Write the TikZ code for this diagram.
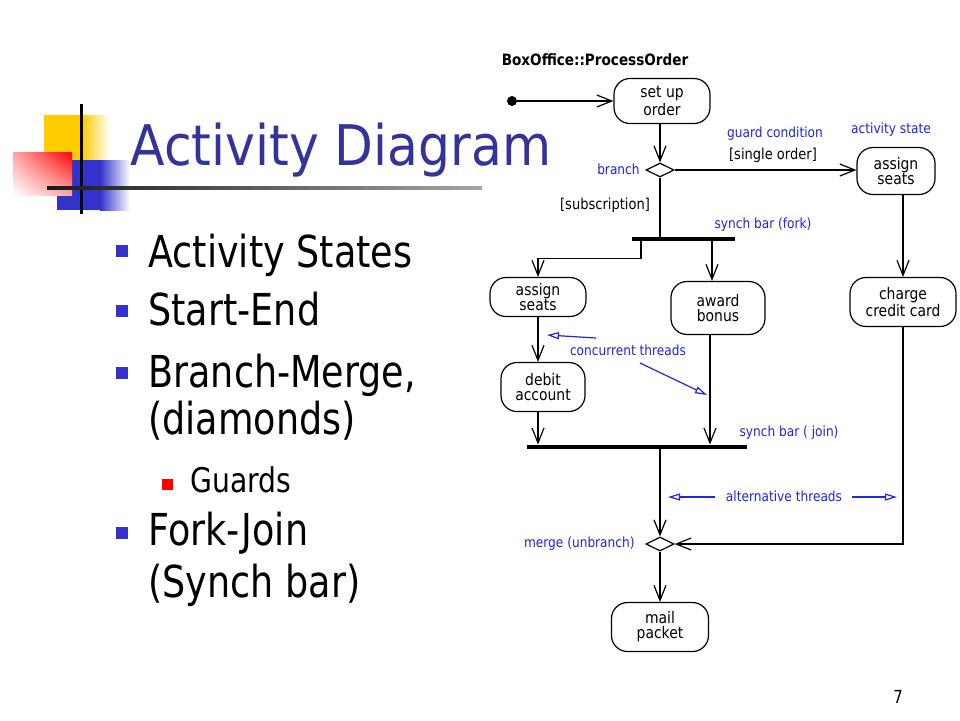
\documentclass[tikz,border=0pt]{standalone}
\usepackage{fontspec}
\usetikzlibrary{arrows.meta,shapes.geometric,shadings,calc}
\newfontfamily\titlefont[FakeStretch=0.9]{DejaVu Sans}
\newfontfamily\bodyfont[FakeStretch=0.83]{DejaVu Sans}
\newfontfamily\diagfont[FakeStretch=0.87]{DejaVu Sans}
\definecolor{titleblue}{RGB}{51,51,153}
\definecolor{bulletblue}{RGB}{51,51,204}
\definecolor{noteblue}{RGB}{35,35,225}
\definecolor{boxyellow}{RGB}{255,204,0}
\tikzset{
  activity/.style={draw, line width=0.6pt, rounded corners=8pt, align=center, inner sep=1pt,
    font=\diagfont\fontsize{8}{7.5}\selectfont},
  decision/.style={draw, line width=0.6pt, diamond, inner sep=0pt, minimum width=14pt, minimum height=7pt},
  synchbar/.style={fill=black, inner sep=0pt, minimum height=2pt},
  flow/.style={line width=0.6pt, -{Straight Barb[length=7.5pt,width=6pt]}},
  note/.style={text=noteblue, inner sep=0pt, font=\diagfont\fontsize{7}{8}\selectfont},
  guard/.style={inner sep=0pt, font=\diagfont\fontsize{7.5}{8}\selectfont},
  notearrow/.style={noteblue, line width=0.6pt, -{Triangle[open,length=6pt,width=3.5pt]}},
  bulletbox/.style={fill=bulletblue, minimum size=6pt, inner sep=0pt},
  bullettext/.style={anchor=base west, inner sep=0pt, font=\bodyfont\fontsize{22}{26}\selectfont},
}
\begin{document}
\begin{tikzpicture}[x=0.5pt,y=-0.5pt]
\useasboundingbox (0,0) rectangle (960,720);
\fill[white] (0,0) rectangle (960,720);

% slide decoration
\fill[boxyellow] (44,115) rectangle (83,160);
\shade[left color=boxyellow, right color=white] (82,115) rectangle (110,160);
\fill[bulletblue] (57,160) rectangle (101,210);
\shade[left color=bulletblue, right color=white] (100,160) rectangle (130,210);
\shade[upper right=red, upper left=red!35!white, lower right=red!35!white, lower left=white] (13,152) rectangle (72,195);
\draw[line width=1.5pt] (81,104) -- (81,214);
\shade[left color=black!90, right color=black!35] (47,186.5) rectangle (482,189.5);

% title and bullets
\node[anchor=base west, inner sep=0pt, text=titleblue, font=\titlefont\fontsize{28}{30}\selectfont] (title) at (130,165) {Activity Diagram};
\node[bulletbox] (b1) at (121.5,251) {};
\node[bullettext] (t1) at (148,267) {Activity States};
\node[bulletbox] (b2) at (121.5,311) {};
\node[bullettext] (t2) at (148,325) {Start-End};
\node[bulletbox] (b3) at (121.5,372.5) {};
\node[bullettext] (t3) at (148,387) {Branch-Merge,};
\node[bullettext] (t3b) at (148,434) {(diamonds)};
\node[fill=red, minimum size=5.5pt, inner sep=0pt] (b4) at (167.5,484) {};
\node[anchor=base west, inner sep=0pt, font=\bodyfont\fontsize{17}{20}\selectfont] (t4) at (190,492) {Guards};
\node[bulletbox] (b5) at (121.5,533) {};
\node[bullettext] (t5) at (148,545) {Fork-Join};
\node[bullettext] (t5b) at (148,597) {(Synch bar)};
\node[font=\bodyfont\fontsize{9}{10}\selectfont] (page) at (898,697) {7};

% activity diagram
\node[font=\diagfont\bfseries\fontsize{7.8}{9}\selectfont] (name) at (595,60) {BoxOffice::ProcessOrder};
\node[circle, fill, inner sep=0pt, minimum size=5pt] (start) at (512,101) {};
\node[activity, minimum width=48pt, minimum height=22.5pt] (setup) at (662,101) {set up\\order};
\node[decision] (branch) at (660,170) {};
\node[activity, minimum width=39pt, minimum height=23.5pt] (seatsR) at (896,171) {assign\\seats};
\node[synchbar, minimum width=51.5pt] (fork) at (683.5,239) {};
\node[activity, minimum width=48pt, minimum height=19.5pt] (seatsL) at (538,297) {assign\\seats};
\node[activity, minimum width=47pt, minimum height=26.5pt] (bonus) at (718,308) {award\\bonus};
\node[activity, minimum width=53pt, minimum height=24.5pt] (charge) at (903,302) {charge\\credit card};
\node[activity, minimum width=42pt, minimum height=24.5pt] (debit) at (543,387) {debit\\account};
\node[synchbar, minimum width=110pt] (join) at (637,447) {};
\node[decision] (merge) at (660,544) {};
\node[activity, minimum width=48.5pt, minimum height=24.5pt] (mail) at (660,627) {mail\\packet};

\draw[flow] (start) -- (setup);
\draw[flow] (setup.south -| branch.north) -- (branch.north);
\draw[flow] (branch.east) -- (branch.east -| seatsR.west);
\draw[line width=0.6pt] (branch.south) -- (branch.south |- fork.north);
\coordinate (forkL) at (641,239);
\draw[flow] (fork.south -| forkL) -- ++(0,17) -| (seatsL.north);
\draw[flow] (fork.south -| bonus.north) ++(-6,0) -- ([xshift=-3pt]bonus.north);
\draw[flow] (seatsR.south -| charge.north) -- (charge.north);
\draw[flow] (seatsL.south) -- (seatsL.south |- debit.north);
\draw[flow] (debit.south -| seatsL.south) -- (seatsL.south |- join.north);
\draw[flow] ([xshift=-4pt]bonus.south) -- ([xshift=-4pt]bonus.south |- join.north);
\draw[flow] (join.south -| merge.north) -- (merge.north);
\draw[flow] (charge.south) |- (merge.east);
\draw[flow] (merge.south) -- (mail.north);

% notes
\node[note, anchor=east] (lbranch) at (640,169) {branch};
\node[note] (lguard) at (775,134) {guard condition};
\node[guard] (lsingle) at (773,155) {[single order]};
\node[note] (lstate) at (891,130) {activity state};
\node[guard] (lsub) at (605,205) {[subscription]};
\node[note] (lfork) at (763,225) {synch bar (fork)};
\node[note] (lconc) at (628,350) {concurrent threads};
\node[note] (ljoin) at (789,433) {synch bar ( join)};
\node[note] (lalt) at (784,496) {alternative threads};
\node[note, anchor=east] (lmerge) at (635,544) {merge (unbranch)};

\coordinate (c1) at (596,338);
\coordinate (c1e) at (547,335);
\coordinate (c2) at (640,363);
\coordinate (c2e) at (707,395);
\coordinate (a1) at (715,497);
\coordinate (a1e) at (668,497);
\coordinate (a2) at (852,497);
\coordinate (a2e) at (897,497);
\draw[notearrow] (c1) -- (c1e);
\draw[notearrow] (c2) -- (c2e);
\draw[notearrow] (a1) -- (a1e);
\draw[notearrow] (a2) -- (a2e);
\end{tikzpicture}
\end{document}
